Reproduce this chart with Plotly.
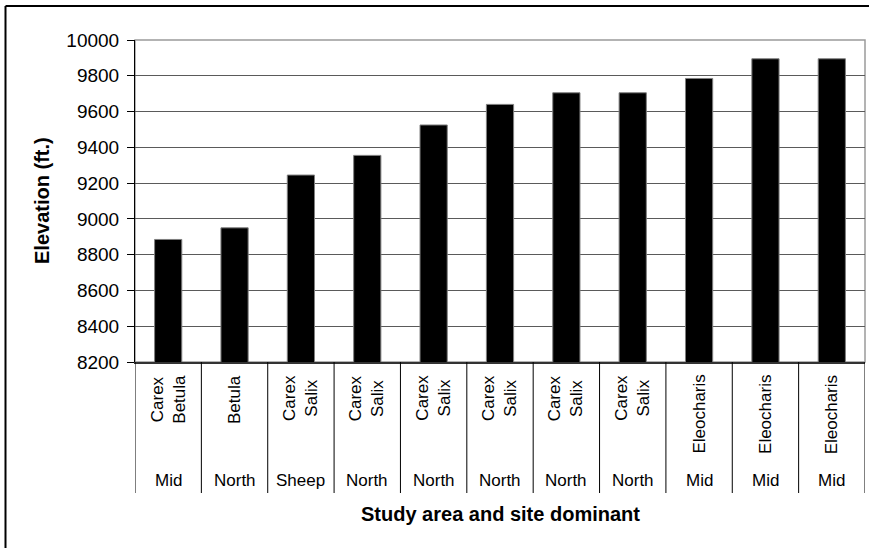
import plotly.graph_objects as go

# ---- data ----
study_areas = ["Mid", "North", "Sheep", "North", "North", "North", "North", "North", "Mid", "Mid", "Mid"]
dominants = ["Carex<br>Betula", "Betula", "Carex<br>Salix", "Carex<br>Salix", "Carex<br>Salix",
             "Carex<br>Salix", "Carex<br>Salix", "Carex<br>Salix", "Eleocharis", "Eleocharis", "Eleocharis"]
elevation = [8885, 8950, 9245, 9355, 9525, 9640, 9705, 9705, 9785, 9895, 9895]
y_ticks = [8200, 8400, 8600, 8800, 9000, 9200, 9400, 9600, 9800, 10000]
y_ticktext = [str(v) for v in y_ticks]
y_title = "Elevation (ft.)"
x_title = "Study area and site dominant"

W, H = 869, 548
PL, PR, PT, PB = 135, 865, 40, 362   # plot area in page pixels
ML, MT = PL, PT
MR = W - PR
MB = H - PB
plot_w = PR - PL
plot_h = PB - PT

def px_x(p):
    return (p - PL) / plot_w

def px_y(p):
    return (PB - p) / plot_h

idx = list(range(len(elevation)))
font_family = "Arial, Liberation Sans, sans-serif"

fig = go.Figure()
fig.add_trace(go.Bar(
    x=idx, y=elevation, width=0.41,
    marker=dict(color="black", line=dict(color="#7f7f7f", width=1)),
    hoverinfo="x+y", showlegend=False,
))

annotations = []
shapes = []

# inner level (rotated dominant labels)
for i, d in zip(idx, dominants):
    annotations.append(dict(
        x=i, y=px_y(373), xref="x", yref="paper", text=d, textangle=-90,
        showarrow=False, xanchor="center", yanchor="top", align="center",
        font=dict(family=font_family, size=17, color="black"),
    ))
# outer level (study area)
for i, a in zip(idx, study_areas):
    annotations.append(dict(
        x=i, y=px_y(480), xref="x", yref="paper", text=a,
        showarrow=False, xanchor="center", yanchor="middle",
        font=dict(family=font_family, size=17, color="black"),
    ))
# category dividers
for k in range(len(idx) + 1):
    shapes.append(dict(
        type="line", xref="x", yref="paper", x0=k - 0.5, x1=k - 0.5,
        y0=0, y1=px_y(493), line=dict(color="black", width=1),
    ))

# axis titles
annotations.append(dict(
    x=px_x(42), y=0.5, xref="paper", yref="paper", text=y_title, textangle=-90,
    showarrow=False, xanchor="center", yanchor="middle",
    font=dict(family=font_family, size=20, color="black", weight="bold"),
))
annotations.append(dict(
    x=0.5, y=px_y(514), xref="paper", yref="paper", text=x_title,
    showarrow=False, xanchor="center", yanchor="middle",
    font=dict(family=font_family, size=20, color="black", weight="bold"),
))

# plot area border (grey)
shapes.append(dict(type="rect", xref="paper", yref="paper", x0=0, x1=1, y0=0, y1=1,
                   line=dict(color="#9a9a9a", width=1.5), layer="below"))
# chart outer border (left and top visible)
shapes.append(dict(type="line", xref="paper", yref="paper", x0=px_x(5.5), x1=px_x(5.5),
                   y0=px_y(6), y1=px_y(600), line=dict(color="black", width=2)))
shapes.append(dict(type="line", xref="paper", yref="paper", x0=px_x(5.5), x1=px_x(900),
                   y0=px_y(6), y1=px_y(6), line=dict(color="black", width=2)))

fig.update_layout(
    width=W, height=H,
    margin=dict(l=ML, r=MR, t=MT, b=MB),
    paper_bgcolor="white", plot_bgcolor="white",
    bargap=0.59,
    annotations=annotations, shapes=shapes,
    font=dict(family=font_family, color="black"),
)
fig.update_xaxes(
    range=[-0.5, len(idx) - 0.5], showticklabels=False, ticks="",
    showgrid=False, zeroline=False, showline=True, linecolor="#333333", linewidth=1.5,
)
fig.update_yaxes(
    range=[8200, 10000], tickvals=y_ticks, ticktext=y_ticktext,
    ticks="outside", ticklen=7, ticklabelstandoff=4,
    tickcolor="black", tickwidth=1, showline=True, linecolor="black", linewidth=1,
    showgrid=True, gridcolor="#5a5a5a", gridwidth=1, zeroline=False,
    tickfont=dict(family=font_family, size=19, color="black"),
)

fig.write_html(
    "out.html",
    config={"displayModeBar": False},
    post_script="document.body.style.margin='0';document.body.style.overflow='hidden';",
)
